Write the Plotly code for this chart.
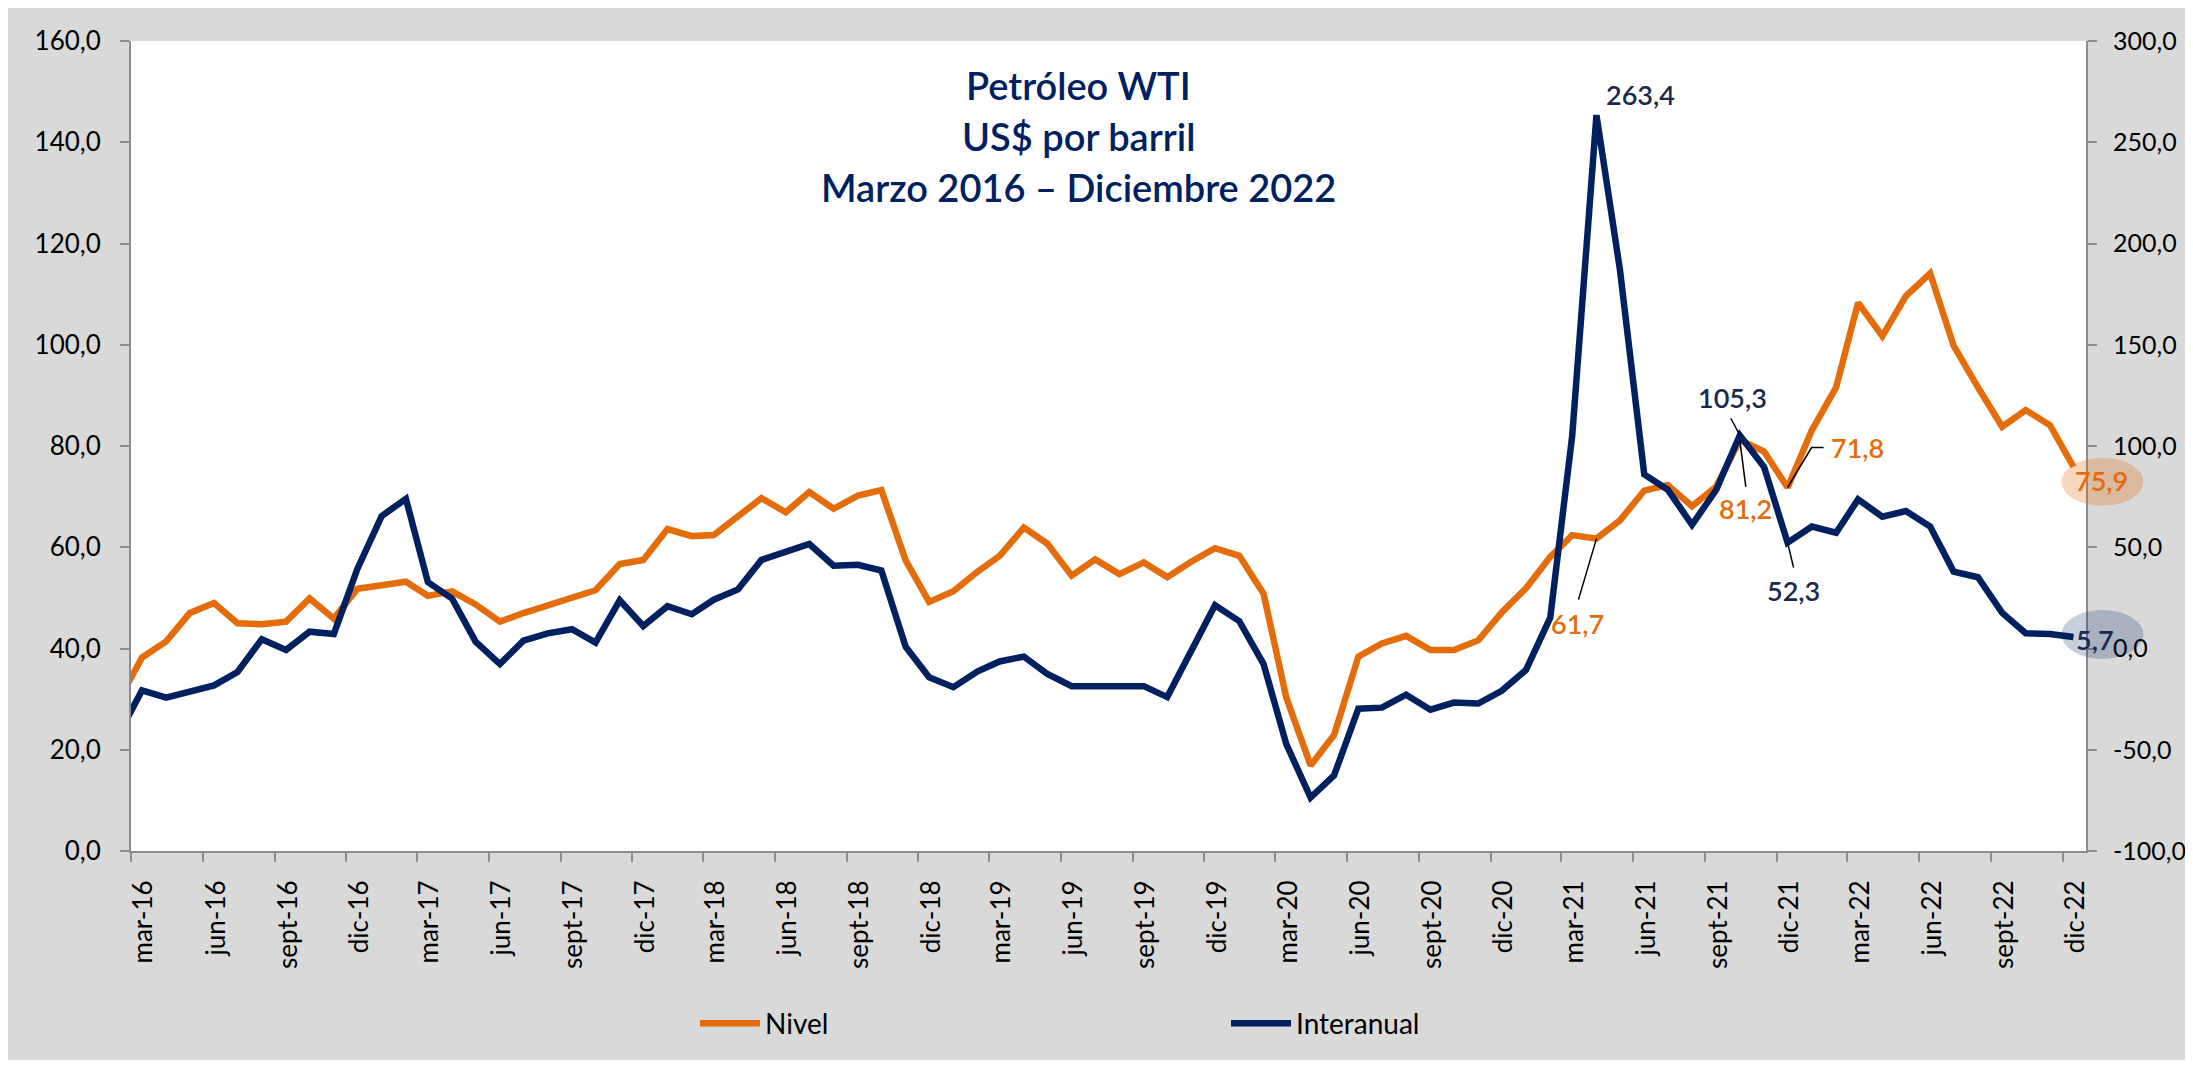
import pandas as pd
import plotly.graph_objects as go

# ---------------- data ----------------
months = pd.date_range("2016-02-01", "2022-12-01", freq="MS")   # Feb-16 .. Dec-22
dates = months + pd.Timedelta(days=14)                          # mid-month points

nivel = [
    30.0, 38.2, 41.4, 47.0, 49.0, 45.0, 44.8, 45.3, 49.9, 45.9, 51.8,            # 2016 (feb-dic)
    52.5, 53.2, 50.4, 51.3, 48.7, 45.3, 47.0, 48.5, 50.0, 51.5, 56.7, 57.5,      # 2017
    63.6, 62.2, 62.4, 66.2, 69.7, 66.9, 70.9, 67.6, 70.2, 71.3, 57.4, 49.2,      # 2018
    51.3, 55.2, 58.3, 63.9, 60.7, 54.4, 57.6, 54.7, 57.0, 54.1, 57.2, 59.8,      # 2019
    58.3, 50.8, 30.3, 16.9, 22.9, 38.4, 41.0, 42.5, 39.7, 39.7, 41.6, 47.1,      # 2020
    51.9, 58.1, 62.4, 61.7, 65.3, 71.2, 72.3, 68.1, 72.0, 81.2, 78.9, 71.8,      # 2021
    83.1, 91.6, 108.3, 101.7, 109.6, 114.1, 99.8, 91.6, 83.8, 87.1, 84.1, 75.9,  # 2022
]

interanual = [
    -42.0, -20.7, -24.3, -21.1, -18.2, -11.6, 4.6, -0.7, 8.3, 7.2, 39.3,         # 2016 (feb-dic)
    65.4, 73.9, 32.8, 24.6, 3.4, -7.7, 3.9, 7.5, 9.5, 2.9, 23.8, 11.1,          # 2017
    20.9, 16.9, 24.1, 29.2, 43.8, 47.8, 51.6, 40.9, 41.3, 38.5, 0.9, -14.2,     # 2018
    -19.1, -11.3, -6.4, -4.0, -12.6, -18.6, -18.8, -19.1, -18.6, -24.0, -1.5, 21.4,  # 2019
    13.5, -7.7, -47.2, -73.6, -62.7, -29.7, -29.2, -22.8, -30.2, -26.7, -27.2, -20.9,  # 2020
    -10.6, 15.3, 105.0, 263.4, 187.0, 86.0, 78.4, 61.1, 78.4, 105.3, 89.6, 52.3,  # 2021
    60.2, 57.2, 73.6, 65.1, 67.9, 60.2, 38.0, 35.2, 17.6, 7.5, 7.2, 5.7,       # 2022
]

tick_dates = [f"{y}-{m:02d}-01" for y in range(2016, 2023) for m in (3, 6, 9, 12)]
tick_labels = [
    "mar-16", "jun-16", "sept-16", "dic-16",
    "mar-17", "jun-17", "sept-17", "dic-17",
    "mar-18", "jun-18", "sept-18", "dic-18",
    "mar-19", "jun-19", "sept-19", "dic-19",
    "mar-20", "jun-20", "sept-20", "dic-20",
    "mar-21", "jun-21", "sept-21", "dic-21",
    "mar-22", "jun-22", "sept-22", "dic-22",
]
left_ticks = [0, 20, 40, 60, 80, 100, 120, 140, 160]
left_tick_labels = ["0,0", "20,0", "40,0", "60,0", "80,0", "100,0", "120,0", "140,0", "160,0"]
right_ticks = [-100, -50, 0, 50, 100, 150, 200, 250, 300]
right_tick_labels = ["-100,0", "-50,0", "0,0", "50,0", "100,0", "150,0", "200,0", "250,0", "300,0"]

title_lines = ["Petróleo WTI", "US$ por barril", "Marzo 2016 – Diciembre 2022"]

# ---------------- style ----------------
ORANGE = "#E46C0A"
NAVY = "#002060"
LABEL_NAVY = "#1B2A4A"
GRAY_BG = "#D9D9D9"
AXIS_GRAY = "#8C8C8C"
FONT = "Lato"

X_LO, X_HI = pd.Timestamp("2016-03-01"), pd.Timestamp("2022-12-31")
Y_LO, Y_HI = 0, 160
Y2_LO, Y2_HI = -100, 300

fig = go.Figure()
fig.add_trace(go.Scatter(x=dates, y=nivel, name="Nivel", mode="lines",
                         line=dict(color=ORANGE, width=6.5), yaxis="y", legend="legend"))
fig.add_trace(go.Scatter(x=dates, y=interanual, name="Interanual", mode="lines",
                         line=dict(color=NAVY, width=6.5), yaxis="y2", legend="legend2"))


def idx(month):
    return months.get_loc(pd.Timestamp(month + "-01"))


def fx(d):
    return (d - X_LO) / (X_HI - X_LO)


annotations = []
shapes = []

# title
for i, line in enumerate(title_lines):
    annotations.append(dict(text=line, xref="paper", yref="paper", x=0.4844, y=[0.946, 0.883, 0.820][i],
                            showarrow=False, xanchor="center", yanchor="middle",
                            font=dict(family=FONT, size=38, color=NAVY, weight=600)))

# value labels: (series, month, text, xshift, yshift, leader relative path)
labels = [
    ("i", "2021-04", "263,4", 44, 21, None),
    ("i", "2021-10", "105,3", -7, 38, "M-9,17L0,0"),
    ("n", "2021-10", "81,2", 6, -69, "M0,0L6,-47"),
    ("n", "2021-12", "71,8", 70, 40, "M0,0L24,40L36,40"),
    ("i", "2021-12", "52,3", 6, -48, "M0,0L6,-25"),
    ("n", "2021-04", "61,7", -19, -85, "M0,0L-18,-61"),
    ("n", "2022-12", "75,9", 28, -14, None),
    ("i", "2022-12", "5,7", 22, -3, None),
]
for ser, m, txt, xs, ys, path in labels:
    k = idx(m)
    val = nivel[k] if ser == "n" else interanual[k]
    yref = "y" if ser == "n" else "y2"
    color = ORANGE if ser == "n" else LABEL_NAVY
    annotations.append(dict(x=dates[k], y=val, xref="x", yref=yref, text=txt, showarrow=False,
                            xshift=xs, yshift=ys, xanchor="center", yanchor="middle",
                            font=dict(family=FONT, size=27, color=color, weight=600)))
    if path:
        shapes.append(dict(type="path", xref="x", yref=yref, xsizemode="pixel", ysizemode="pixel",
                           xanchor=dates[k], yanchor=val, path=path,
                           line=dict(color="black", width=1.5)))

# highlight ellipses behind the last values
k = len(dates) - 1
shapes.append(dict(type="circle", xref="paper", yref="paper", xsizemode="pixel", ysizemode="pixel",
                   xanchor=fx(dates[k]), yanchor=(nivel[k] - Y_LO) / (Y_HI - Y_LO),
                   x0=-12, x1=70, y0=-39, y1=9, layer="above",
                   fillcolor="rgba(228,108,10,0.28)", line=dict(width=0)))
shapes.append(dict(type="circle", xref="paper", yref="paper", xsizemode="pixel", ysizemode="pixel",
                   xanchor=fx(dates[k]), yanchor=(interanual[k] - Y2_LO) / (Y2_HI - Y2_LO),
                   x0=-12, x1=70, y0=-22, y1=27, layer="above",
                   fillcolor="rgba(0,32,96,0.22)", line=dict(width=0)))

axis_common = dict(showline=True, linecolor=AXIS_GRAY, linewidth=2, ticks="outside", ticklen=9,
                   tickwidth=2, tickcolor=AXIS_GRAY, showgrid=False, zeroline=False, automargin=False)
tick_font = dict(family=FONT, size=26, color="black")

fig.update_layout(
    width=2177, height=1052,
    margin=dict(l=123, r=99, t=33, b=202),
    paper_bgcolor=GRAY_BG, plot_bgcolor="white",
    font=dict(family=FONT, color="black"),
    xaxis=dict(type="date", range=[X_LO, X_HI], tickmode="array", tickvals=tick_dates,
               ticktext=tick_labels, tickangle=-90, ticklabelshift=13, ticklabelstandoff=8,
               tickfont=tick_font, **axis_common),
    yaxis=dict(range=[Y_LO, Y_HI], tickmode="array", tickvals=left_ticks, ticktext=left_tick_labels,
               ticklabelstandoff=14, tickfont=tick_font, **axis_common),
    yaxis2=dict(range=[Y2_LO, Y2_HI], tickmode="array", tickvals=right_ticks, ticktext=right_tick_labels,
                overlaying="y", side="right", ticklabelstandoff=11,
                tickfont=dict(family=FONT, size=25, color="black"), **axis_common),
    legend=dict(x=0.2885, y=-0.213, xanchor="left", yanchor="middle", bgcolor="rgba(0,0,0,0)",
                font=dict(family=FONT, size=28, color="black"), itemwidth=60),
    legend2=dict(x=0.5601, y=-0.213, xanchor="left", yanchor="middle", bgcolor="rgba(0,0,0,0)",
                 font=dict(family=FONT, size=28, color="black"), itemwidth=60),
    annotations=annotations,
    shapes=shapes,
    showlegend=True,
)

fig.write_html("out.html")
